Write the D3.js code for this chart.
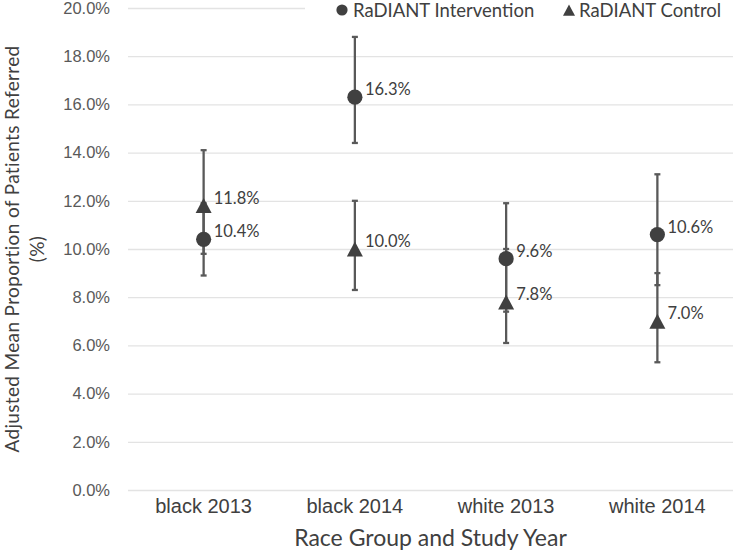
<!DOCTYPE html>
<html>
<head>
<meta charset="utf-8">
<script src="https://cdn.jsdelivr.net/npm/d3@7"></script>
<style>
  html, body { margin: 0; padding: 0; background: #fff; }
  svg { display: block; font-family: Lato, "Open Sans", sans-serif; }
</style>
</head>
<body>
<svg id="chart" width="733" height="550"></svg>
<script>
const categories = ["black 2013", "black 2014", "white 2013", "white 2014"];
const intervention = [10.4, 16.3, 9.6, 10.6];
const interventionLow = [8.9, 14.4, 7.4, 8.5];
const interventionHigh = [11.9, 18.8, 11.9, 13.1];
const control = [11.8, 10.0, 7.8, 7.0];
const controlLow = [9.8, 8.3, 6.1, 5.3];
const controlHigh = [14.1, 12.0, 10.0, 9.0];
const yTicks = [0, 2, 4, 6, 8, 10, 12, 14, 16, 18, 20];
const seriesNames = ["RaDIANT Intervention", "RaDIANT Control"];

const svg = d3.select("#chart");
const margin = { left: 128, right: 0, top: 8, bottom: 60 };
const W = 733, H = 550;

const x = d3.scaleBand().domain(categories).range([margin.left, W - margin.right]);
const y = d3.scaleLinear().domain([0, 20]).range([H - margin.bottom, margin.top]);

const markerColor = "#404040";
const barColor = "#595959";
const textColor = "#404040";
const tickColor = "#595959";

// triangle symbol centred on its bounding box (width:height = 16:15)
const triangleBox = {
  draw(ctx, size) {
    const w = Math.sqrt(size), h = w * 15 / 16;
    ctx.moveTo(0, -h / 2);
    ctx.lineTo(w / 2, h / 2);
    ctx.lineTo(-w / 2, h / 2);
    ctx.closePath();
  }
};

// gridlines + y tick labels
const yAxis = d3.axisLeft(y).tickValues(yTicks)
  .tickSize(-(W - margin.left - margin.right))
  .tickPadding(18)
  .tickFormat(d => d.toFixed(1) + "%");
const gy = svg.append("g").attr("transform", `translate(${margin.left},0)`).call(yAxis);
gy.select(".domain").remove();
gy.selectAll(".tick line").attr("stroke", "#e3e3e3").attr("stroke-width", 1.3);
gy.selectAll(".tick text").attr("fill", tickColor).style("font-size", "16.5px");

// x axis labels
const xAxis = d3.axisBottom(x).tickSize(0).tickPadding(9);
const gx = svg.append("g").attr("transform", `translate(0,${y(0)})`).call(xAxis);
gx.select(".domain").remove();
gx.selectAll(".tick text").attr("fill", textColor).style("font-size", "20px");

// error bars
function errorBars(lo, hi, cls) {
  const g = svg.append("g").attr("class", cls);
  categories.forEach((c, i) => {
    const cx = x(c) + x.bandwidth() / 2;
    g.append("line").attr("x1", cx).attr("x2", cx).attr("y1", y(lo[i])).attr("y2", y(hi[i]))
      .attr("stroke", barColor).attr("stroke-width", 2.3);
    [lo[i], hi[i]].forEach(v => {
      g.append("line").attr("x1", cx - 3).attr("x2", cx + 3).attr("y1", y(v)).attr("y2", y(v))
        .attr("stroke", barColor).attr("stroke-width", 2.3);
    });
  });
}
errorBars(interventionLow, interventionHigh, "eb-int");
errorBars(controlLow, controlHigh, "eb-ctl");

const circleSym = d3.symbol().type(d3.symbolCircle).size(Math.PI * 7.6 * 7.6);
const triSym = d3.symbol().type(triangleBox).size(16 * 16);

// markers
svg.append("g").selectAll("path").data(intervention).join("path")
  .attr("d", circleSym)
  .attr("transform", (d, i) => `translate(${x(categories[i]) + x.bandwidth() / 2},${y(d)})`)
  .attr("fill", markerColor);
svg.append("g").selectAll("path").data(control).join("path")
  .attr("d", triSym)
  .attr("transform", (d, i) => `translate(${x(categories[i]) + x.bandwidth() / 2},${y(d)})`)
  .attr("fill", markerColor);

// data labels
function labels(vals) {
  svg.append("g").selectAll("text").data(vals).join("text")
    .attr("x", (d, i) => x(categories[i]) + x.bandwidth() / 2 + 10)
    .attr("y", (d) => y(d) - 8)
    .attr("dominant-baseline", "central")
    .attr("fill", textColor)
    .style("font-size", "16.5px")
    .text(d => d.toFixed(1) + "%");
}
labels(intervention);
labels(control);

// legend
svg.append("rect").attr("x", 305).attr("y", 0).attr("width", 428).attr("height", 20).attr("fill", "#fff");
const lg = svg.append("g");
lg.append("path").attr("d", d3.symbol().type(d3.symbolCircle).size(Math.PI * 5.6 * 5.6)())
  .attr("transform", "translate(342,10)").attr("fill", markerColor);
lg.append("text").attr("x", 353).attr("y", 10).attr("dominant-baseline", "central")
  .attr("fill", textColor).style("font-size", "18.5px").text(seriesNames[0]);
lg.append("path").attr("d", d3.symbol().type(triangleBox).size(12 * 12)())
  .attr("transform", "translate(569,10)").attr("fill", markerColor);
lg.append("text").attr("x", 579).attr("y", 10).attr("dominant-baseline", "central")
  .attr("fill", textColor).style("font-size", "18.5px").text(seriesNames[1]);

// axis titles
svg.append("text").attr("x", (margin.left + W) / 2).attr("y", 537)
  .attr("text-anchor", "middle").attr("dominant-baseline", "central")
  .attr("fill", textColor).style("font-size", "23px").text("Race Group and Study Year");

const yt = svg.append("text")
  .attr("transform", `translate(19.2,${(y(0) + y(20)) / 2}) rotate(-90)`)
  .attr("text-anchor", "middle").attr("fill", textColor)
  .style("font-size", "19px").style("letter-spacing", "0.35px");
yt.append("tspan").attr("x", 0).attr("dy", 0).text("Adjusted Mean Proportion of Patients Referred");
yt.append("tspan").attr("x", 0).attr("dy", "1.3em").text("(%)");
</script>
</body>
</html>
